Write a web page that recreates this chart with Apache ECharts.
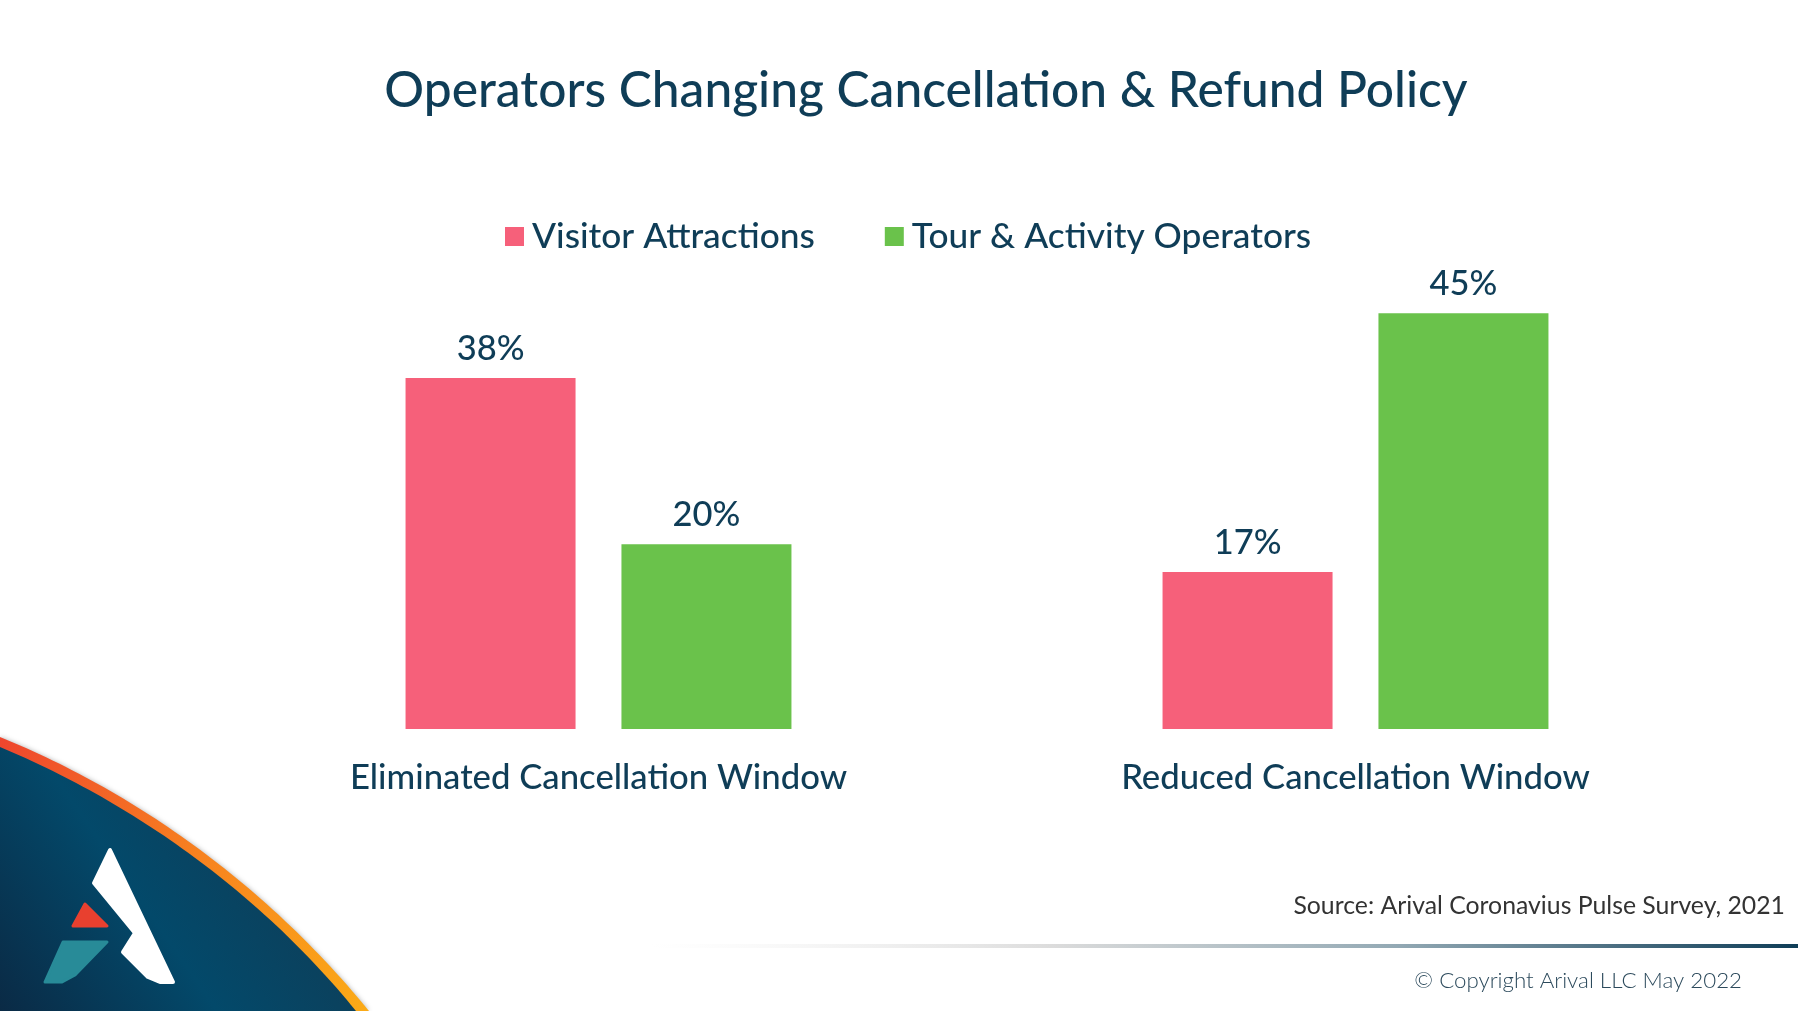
<!DOCTYPE html>
<html>
<head>
<meta charset="utf-8">
<style>
  html, body { margin: 0; padding: 0; background: #fff; }
  #main { width: 1798px; height: 1011px; }
</style>
<script src="https://cdn.jsdelivr.net/npm/echarts@6/dist/echarts.min.js"></script>
</head>
<body>
<div id="main"></div>
<script>
const categories = ['Eliminated Cancellation Window', 'Reduced Cancellation Window'];
const visitorValues = [38, 17];
const tourValues = [20, 45];
const seriesNames = ['Visitor Attractions', 'Tour & Activity Operators'];
const titleText = 'Operators Changing Cancellation & Refund Policy';
const sourceText = 'Source: Arival Coronavius Pulse Survey, 2021';
const copyrightText = '© Copyright Arival LLC May 2022';

const navy = '#0f3d57';
const font = 'Lato';

function linear(x, y, x2, y2, stops) {
  return new echarts.graphic.LinearGradient(x, y, x2, y2, stops.map(s => ({ offset: s[0], color: s[1] })));
}

// corner shape outline: one cubic curve closed along the bottom-left corner
function cornerShape(p0, c1, c2, p3) {
  const pts = [];
  for (let i = 0; i <= 60; i++) {
    const t = i / 60, u = 1 - t;
    pts.push([
      u * u * u * p0[0] + 3 * u * u * t * c1[0] + 3 * u * t * t * c2[0] + t * t * t * p3[0],
      u * u * u * p0[1] + 3 * u * u * t * c1[1] + 3 * u * t * t * c2[1] + t * t * t * p3[1]
    ]);
  }
  pts.push([0, 1011]);
  return pts;
}

const chart = echarts.init(document.getElementById('main'));

function barLabel() {
  return {
    show: true,
    position: 'top',
    distance: 12,
    formatter: '{c}%',
    color: navy,
    fontFamily: font,
    fontWeight: 500,
    fontSize: 34.5
  };
}

chart.setOption({
  animation: false,
  backgroundColor: '#ffffff',
  textStyle: { fontFamily: font },
  title: {
    text: titleText,
    left: 921,
    top: 61,
    textAlign: 'center',
    textStyle: { color: navy, fontFamily: font, fontSize: 49.7, fontWeight: 500 }
  },
  legend: {
    data: seriesNames,
    left: 500,
    top: 214,
    icon: 'rect',
    itemWidth: 19,
    itemHeight: 19,
    itemGap: 70,
    textStyle: { color: navy, fontFamily: font, fontWeight: 500, fontSize: 35.3, padding: [0, 0, 0, 3] }
  },
  grid: { left: 220, right: 64, top: 267, bottom: 282 },
  xAxis: {
    type: 'category',
    data: categories,
    axisLine: { show: false },
    axisTick: { show: false },
    axisLabel: { color: navy, fontFamily: font, fontWeight: 500, fontSize: 34.7, margin: 31 }
  },
  yAxis: { type: 'value', min: 0, max: 50, show: false },
  series: [
    {
      name: seriesNames[0],
      type: 'bar',
      data: visitorValues,
      barWidth: 170,
      barGap: '27%',
      itemStyle: { color: '#f6607a' },
      label: barLabel()
    },
    {
      name: seriesNames[1],
      type: 'bar',
      data: tourValues,
      barWidth: 170,
      itemStyle: { color: '#6ac24b' },
      label: barLabel()
    }
  ],
  graphic: [
    // corner swoosh
    {
      type: 'polygon', z: -2,
      shape: { points: cornerShape([0, 737], [130, 790], [262, 880], [369, 1011]) },
      style: {
        fill: linear(0, 0, 1, 1, [[0, '#ee452e'], [0.5, '#f7821f'], [1, '#fbab17']]),
        shadowBlur: 5, shadowColor: 'rgba(0,0,0,0.3)'
      }
    },
    {
      type: 'polygon', z: -1,
      shape: { points: cornerShape([0, 747], [127, 800], [256, 888], [356, 1011]) },
      style: { fill: linear(0, 1, 0.75, 0.3, [[0, '#0a2a45'], [0.55, '#03496a'], [1, '#0d3f5a']]) }
    },
    // logo
    {
      type: 'polygon', z: 1,
      shape: { points: [[110, 850], [94, 883], [135, 933], [123, 952], [148, 977], [160, 982], [173, 982]] },
      style: { fill: '#ffffff', stroke: '#ffffff', lineWidth: 4, lineJoin: 'round' }
    },
    {
      type: 'polygon', z: 1,
      shape: { points: [[85, 904], [107, 926], [73, 926]] },
      style: { fill: '#e8402f', stroke: '#e8402f', lineWidth: 3, lineJoin: 'round' }
    },
    {
      type: 'polygon', z: 1,
      shape: { points: [[63, 942], [107, 942], [75, 975], [62, 982], [45, 982]] },
      style: { fill: '#288b98', stroke: '#288b98', lineWidth: 3, lineJoin: 'round' }
    },
    // footer rule and texts
    {
      type: 'rect', z: 0,
      shape: { x: 650, y: 944, width: 1148, height: 4 },
      style: {
        fill: linear(0, 0, 1, 0, [[0, 'rgba(240,240,240,0)'], [0.35, '#dcdcdc'], [0.65, '#93a9b4'], [1, '#0f3d57']])
      }
    },
    {
      type: 'text', z: 1, x: 1785, y: 906,
      style: {
        text: sourceText, align: 'right', verticalAlign: 'middle',
        fill: '#333333', fontFamily: font, fontSize: 24.8
      }
    },
    {
      type: 'text', z: 1, x: 1742, y: 981,
      style: {
        text: copyrightText, align: 'right', verticalAlign: 'middle',
        fill: '#2c4a5c', fontFamily: font, fontWeight: 300, fontSize: 22.3
      }
    }
  ]
});
</script>
</body>
</html>
